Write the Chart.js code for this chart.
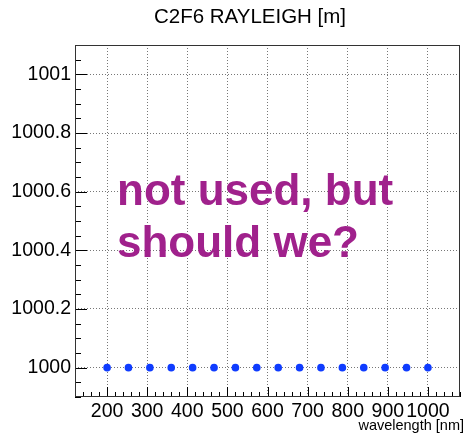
<!DOCTYPE html>
<html>
<head>
<meta charset="utf-8">
<script src="https://cdn.jsdelivr.net/npm/chart.js@4/dist/chart.umd.min.js"></script>
<style>
  body { margin: 0; background: #fff; }
  #wrap { width: 464px; height: 435px; position: relative; }
</style>
</head>
<body>
<div id="wrap"><canvas id="rayleigh-chart"></canvas></div>
<script>
// Data
const wavelengths = [200, 253.3, 306.7, 360, 413.3, 466.7, 520, 573.3, 626.7, 680, 733.3, 786.7, 840, 893.3, 946.7, 1000];
const rayleigh = [1000, 1000, 1000, 1000, 1000, 1000, 1000, 1000, 1000, 1000, 1000, 1000, 1000, 1000, 1000, 1000];
const xTicks = [200, 300, 400, 500, 600, 700, 800, 900, 1000];
const yTicks = [1000, 1000.2, 1000.4, 1000.6, 1000.8, 1001];

const FONT = '"Liberation Sans", Arial, Helvetica, sans-serif';

// ROOT-like frame, inner tick marks, titles and the purple note
const framePlugin = {
    id: 'frame',
    afterDatasetsDraw(chart) {
        const { ctx, chartArea: a, scales } = chart;
        const xs = scales.x, ys = scales.y;
        ctx.save();
        ctx.strokeStyle = '#000';
        ctx.lineWidth = 1;

        // x ticks (major 100, minor 20)
        ctx.beginPath();
        for (let v = Math.ceil(xs.min / 20) * 20; v <= xs.max; v += 20) {
            const px = Math.round(xs.getPixelForValue(v)) + 0.5;
            const len = (v % 100 === 0) ? 10 : 5;
            ctx.moveTo(px, a.bottom);
            ctx.lineTo(px, a.bottom - len);
        }
        // y ticks (major 0.2, minor 0.05)
        for (let i = Math.ceil(ys.min / 0.05); i * 0.05 <= ys.max + 1e-9; i++) {
            const v = i * 0.05;
            const py = Math.round(ys.getPixelForValue(v)) + 0.5;
            const len = (i % 4 === 0) ? 12 : 6;
            ctx.moveTo(a.left, py);
            ctx.lineTo(a.left + len, py);
        }
        ctx.stroke();

        ctx.strokeStyle = '#333';
        ctx.strokeRect(a.left + 0.5, a.top + 0.5, a.right - a.left - 1, a.bottom - a.top - 1);

        // title (ROOT puts it off-centre)
        ctx.fillStyle = '#000';
        ctx.font = '20.5px ' + FONT;
        ctx.textAlign = 'center';
        ctx.textBaseline = 'middle';
        ctx.fillText('C2F6 RAYLEIGH [m]', 250, 17);

        // x axis title, right aligned to the pad edge
        ctx.font = '14.5px ' + FONT;
        ctx.textAlign = 'right';
        ctx.textBaseline = 'alphabetic';
        ctx.fillText('wavelength [nm]', 464, 430);

        ctx.fillStyle = '#a0218c';
        ctx.font = 'bold 44px ' + FONT;
        ctx.textAlign = 'left';
        ctx.fillText('not used, but', 117, 205);
        ctx.fillText('should we?', 117, 257);
        ctx.restore();
    }
};

const ctx = document.getElementById('rayleigh-chart');
new Chart(ctx, {
    type: 'scatter',
    data: {
        datasets: [{
            data: wavelengths.map((w, i) => ({ x: w, y: rayleigh[i] })),
            backgroundColor: '#0f3cff',
            borderColor: '#0f3cff',
            pointRadius: 3.8,
            pointBorderWidth: 0,
            showLine: false
        }]
    },
    options: {
        responsive: true,
        maintainAspectRatio: false,
        animation: false,
        layout: { padding: { top: 45, right: 1, bottom: 0, left: 0 } },
        plugins: {
            legend: { display: false },
            tooltip: { enabled: false },
            title: { display: false }
        },
        scales: {
            x: {
                type: 'linear',
                min: 120,
                max: 1080,
                afterBuildTicks: (s) => { s.ticks = xTicks.map(v => ({ value: v })); },
                afterFit: (s) => { s.height = 38; },
                ticks: {
                    color: '#000',
                    font: { family: FONT, size: 19.5 },
                    padding: 3,
                    maxRotation: 0,
                    autoSkip: false,
                    callback: (v) => String(v)
                },
                grid: { color: '#777', drawTicks: false, lineWidth: 1 },
                border: { display: false, dash: [1, 2] }
            },
            y: {
                type: 'linear',
                min: 999.9,
                max: 1001.1,
                afterBuildTicks: (s) => { s.ticks = yTicks.map(v => ({ value: v })); },
                afterFit: (s) => { s.width = 75; },
                ticks: {
                    color: '#000',
                    font: { family: FONT, size: 19.5 },
                    padding: 4,
                    callback: (v) => String(v)
                },
                grid: { color: '#777', drawTicks: false, lineWidth: 1 },
                border: { display: false, dash: [1, 2] }
            }
        }
    },
    plugins: [framePlugin]
});
</script>
</body>
</html>
